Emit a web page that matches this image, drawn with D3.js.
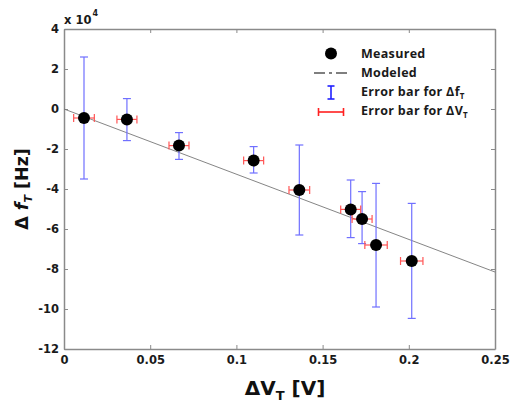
<!DOCTYPE html>
<html>
<head>
<meta charset="utf-8">
<style>
body { margin: 0; background: #fff; }
</style>
</head>
<body>
<div id="chart"></div>
<script src="https://d3js.org/d3.v7.min.js"></script>
<script>

var width = 522, height = 409;
var margin = {top: 29, right: 27, bottom: 60, left: 64};

// measured points: deltaV [V], deltaF [x1e4 Hz]
var dV      = [0.0116, 0.0365, 0.0667, 0.110, 0.1365, 0.1663, 0.1729, 0.181, 0.2017];
var dF      = [-0.45, -0.52, -1.83, -2.58, -4.05, -5.02, -5.5, -6.8, -7.6];
var fTop    = [2.6, 0.52, -1.18, -1.88, -1.8, -3.55, -4.13, -3.72, -4.72];
var fBottom = [-3.5, -1.58, -2.52, -3.2, -6.3, -6.43, -6.73, -9.9, -10.47];
var vErr    = [0.006, 0.0058, 0.0058, 0.0058, 0.006, 0.0058, 0.0058, 0.0065, 0.0065];

// modeled line
var modelV = [0, 0.25];
var modelF = [0, -8.15];

var xTicks = [0, 0.05, 0.1, 0.15, 0.2, 0.25];
var xTickLabels = ["0", "0.05", "0.1", "0.15", "0.2", "0.25"];
var yTicks = [4, 2, 0, -2, -4, -6, -8, -10, -12];

var tickFont = "'DejaVu Sans', Verdana, sans-serif";
var legFont = "'Open Sans', Lato, sans-serif";

var svg = d3.select("#chart").append("svg")
    .attr("width", width)
    .attr("height", height);

var w = width - margin.left - margin.right;
var h = height - margin.top - margin.bottom;

var x = d3.scaleLinear().domain([0, 0.25]).range([0, w]);
var y = d3.scaleLinear().domain([-12, 4]).range([h, 0]);

var g = svg.append("g").attr("transform", "translate(" + margin.left + "," + margin.top + ")");

// axes, ticks inside
g.append("g").attr("class", "ax").attr("transform", "translate(0," + h + ")")
    .call(d3.axisBottom(x).tickValues(xTicks).tickFormat(function(d, i) { return xTickLabels[i]; }).tickSizeInner(-4).tickSizeOuter(0).tickPadding(7));
g.append("g").attr("class", "ax")
    .call(d3.axisTop(x).tickValues(xTicks).tickFormat("").tickSizeInner(-4).tickSizeOuter(0));
g.append("g").attr("class", "ax")
    .call(d3.axisLeft(y).tickValues(yTicks).tickFormat(function(d) { return String(d); }).tickSizeInner(-4).tickSizeOuter(0).tickPadding(5));
g.append("g").attr("class", "ax").attr("transform", "translate(" + w + ",0)")
    .call(d3.axisRight(y).tickValues(yTicks).tickFormat("").tickSizeInner(-4).tickSizeOuter(0));

g.selectAll(".ax .domain").attr("stroke", "#8a8a8a").attr("stroke-width", 1.5);
g.selectAll(".ax .tick line").attr("stroke", "#8a8a8a");
g.selectAll(".ax .tick text")
    .style("font-family", tickFont)
    .style("font-weight", "bold")
    .style("font-size", "11.5px")
    .attr("fill", "#1a1a1a");

// model line
g.append("line")
    .attr("x1", x(modelV[0])).attr("y1", y(modelF[0]))
    .attr("x2", x(modelV[1])).attr("y2", y(modelF[1]))
    .attr("stroke", "#777").attr("stroke-width", 0.9);

var idx = d3.range(dV.length);

// vertical error bars (blue)
var eb = g.append("g").attr("stroke", "#7070ff").attr("stroke-width", 1.2);
idx.forEach(function(i) {
  var cx = x(dV[i]);
  eb.append("line").attr("x1", cx).attr("x2", cx).attr("y1", y(fTop[i])).attr("y2", y(fBottom[i]));
  eb.append("line").attr("x1", cx - 4).attr("x2", cx + 4).attr("y1", y(fTop[i])).attr("y2", y(fTop[i]));
  eb.append("line").attr("x1", cx - 4).attr("x2", cx + 4).attr("y1", y(fBottom[i])).attr("y2", y(fBottom[i]));
});

// horizontal error bars (red)
var hb = g.append("g").attr("stroke", "#ff5555").attr("stroke-width", 1.2);
idx.forEach(function(i) {
  var cy = y(dF[i]);
  var x0 = x(dV[i] - vErr[i]), x1 = x(dV[i] + vErr[i]);
  hb.append("line").attr("x1", x0).attr("x2", x1).attr("y1", cy).attr("y2", cy);
  hb.append("line").attr("x1", x0).attr("x2", x0).attr("y1", cy - 4).attr("y2", cy + 4);
  hb.append("line").attr("x1", x1).attr("x2", x1).attr("y1", cy - 4).attr("y2", cy + 4);
});

// markers
g.selectAll("circle.pt").data(idx).enter().append("circle")
    .attr("class", "pt")
    .attr("cx", function(i) { return x(dV[i]); })
    .attr("cy", function(i) { return y(dF[i]); })
    .attr("r", 6)
    .attr("fill", "#000");

// x 10^4
var mult = svg.append("text")
    .attr("x", 64).attr("y", 23.5)
    .style("font-family", tickFont)
    .style("font-weight", "bold").style("font-size", "11.5px").attr("fill", "#1a1a1a");
mult.append("tspan").text("x 10");
mult.append("tspan").attr("dy", -8).attr("dx", 1).style("font-size", "8px").text("4");

// axis labels
var xl = svg.append("text")
    .attr("x", 285).attr("y", 395)
    .attr("text-anchor", "middle")
    .style("font-family", tickFont)
    .style("font-weight", "bold").style("font-size", "20px").attr("fill", "#111");
xl.append("tspan").text("\u0394V");
xl.append("tspan").attr("dy", 5).style("font-size", "13px").text("T");
xl.append("tspan").attr("dy", -5).text(" [V]");

var yl = svg.append("text")
    .attr("transform", "translate(27.5,189) rotate(-90)")
    .attr("text-anchor", "middle")
    .style("font-family", tickFont)
    .style("font-weight", "bold").style("font-size", "17.5px").attr("fill", "#111");
yl.append("tspan").text("\u0394 ");
yl.append("tspan").style("font-style", "italic").text("f");
yl.append("tspan").attr("dy", 4).style("font-size", "11px").style("font-style", "italic").text("T");
yl.append("tspan").attr("dy", -4).text("  [Hz]");

// legend
var leg = svg.append("g")
    .style("font-family", legFont).style("font-weight", "bold")
    .style("font-size", "12.5px").style("letter-spacing", "0.3px")
    .attr("fill", "#1a1a1a");
var lx = 331, tx = 361;
leg.append("circle").attr("cx", lx).attr("cy", 53.5).attr("r", 6).attr("fill", "#000");
leg.append("text").attr("x", tx).attr("y", 57.5).text("Measured");

leg.append("line").attr("x1", lx - 17).attr("x2", lx + 17).attr("y1", 73).attr("y2", 73)
    .attr("stroke", "#000").attr("stroke-width", 1.2).attr("stroke-dasharray", "11,4,3,4");
leg.append("text").attr("x", tx).attr("y", 76.8).text("Modeled");

var lb = leg.append("g").attr("stroke", "#2020ff").attr("stroke-width", 1.6);
lb.append("line").attr("x1", lx).attr("x2", lx).attr("y1", 86).attr("y2", 99);
lb.append("line").attr("x1", lx - 3.5).attr("x2", lx + 3.5).attr("y1", 86).attr("y2", 86);
lb.append("line").attr("x1", lx - 3.5).attr("x2", lx + 3.5).attr("y1", 99).attr("y2", 99);
var t3 = leg.append("text").attr("x", tx).attr("y", 95.5);
t3.append("tspan").text("Error bar for \u0394f");
t3.append("tspan").attr("dy", 3).style("font-size", "8px").text("T");

var lr = leg.append("g").attr("stroke", "#ff2020").attr("stroke-width", 1.6);
lr.append("line").attr("x1", lx - 12.5).attr("x2", lx + 12.5).attr("y1", 112).attr("y2", 112);
lr.append("line").attr("x1", lx - 12.5).attr("x2", lx - 12.5).attr("y1", 108).attr("y2", 116);
lr.append("line").attr("x1", lx + 12.5).attr("x2", lx + 12.5).attr("y1", 108).attr("y2", 116);
var t4 = leg.append("text").attr("x", tx).attr("y", 114.5);
t4.append("tspan").text("Error bar for \u0394V");
t4.append("tspan").attr("dy", 3).style("font-size", "8px").text("T");

</script>
</body>
</html>
